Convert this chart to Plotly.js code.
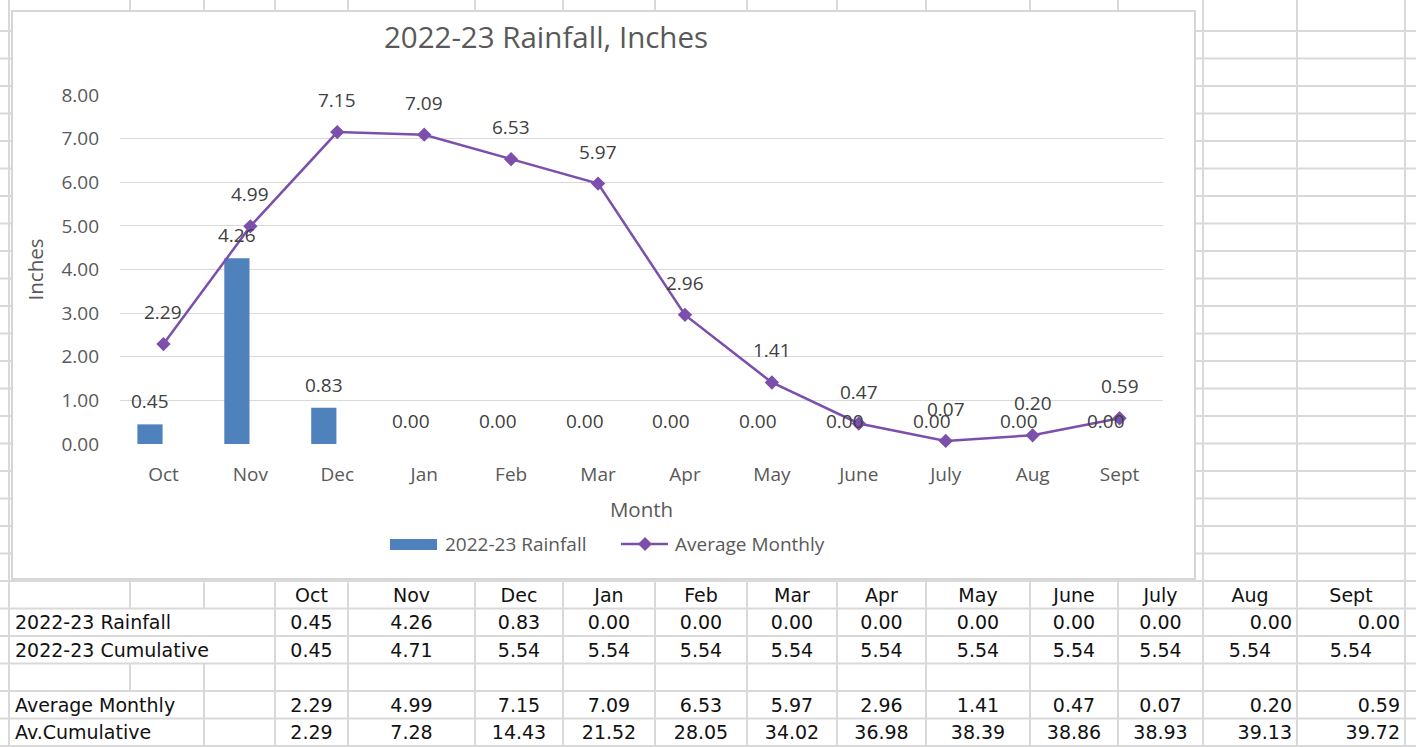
<!DOCTYPE html>
<html>
<head>
<meta charset="utf-8">
<script src="https://cdn.plot.ly/plotly-3.0.1.min.js"></script>
<style>
  html, body { margin:0; padding:0; background:#fff; overflow:hidden; }
  #page { position:relative; width:1416px; height:747px; }
  #grid { position:absolute; left:0; top:0; }
  #chartwrap { position:absolute; left:11px; top:10px; width:1181px; height:566px;
               border:2px solid #d6d6d6; background:#fff; }
  #chart { width:1181px; height:566px; }
  .cell { position:absolute; font-family:"DejaVu Sans", Verdana, sans-serif; font-size:19px;
          color:#111; white-space:nowrap; display:flex; align-items:center; }
</style>
</head>
<body>
<div id="page">
  <svg id="grid" width="1416" height="747"></svg>
  <div id="tablecells"></div>
  <div id="chartwrap"><div id="chart"></div></div>
</div>
<script>
// ---------------- data ----------------
const months = ['Oct','Nov','Dec','Jan','Feb','Mar','Apr','May','June','July','Aug','Sept'];
const rainfall = [0.45, 4.26, 0.83, 0.00, 0.00, 0.00, 0.00, 0.00, 0.00, 0.00, 0.00, 0.00];
const cumulative = [0.45, 4.71, 5.54, 5.54, 5.54, 5.54, 5.54, 5.54, 5.54, 5.54, 5.54, 5.54];
const avgMonthly = [2.29, 4.99, 7.15, 7.09, 6.53, 5.97, 2.96, 1.41, 0.47, 0.07, 0.20, 0.59];
const avCumulative = [2.29, 7.28, 14.43, 21.52, 28.05, 34.02, 36.98, 38.39, 38.86, 38.93, 39.13, 39.72];
const yTicks = [0, 1, 2, 3, 4, 5, 6, 7, 8];
const rowLabels = ['2022-23 Rainfall', '2022-23 Cumulative', '', 'Average Monthly', 'Av.Cumulative'];
const seriesNames = ['2022-23 Rainfall', 'Average Monthly'];
const titleText = '2022-23 Rainfall, Inches';

// ---------------- spreadsheet grid ----------------
const colX = [9,130,204,275,348,475,563,655,747,837,926,1030,1118,1203,1297,1405];
const rowY = [];
for (let k = 0; k <= 26; k++) rowY.push(31 + 27.5 * k);
const tableTop = 20; // index into rowY where table header starts (y=581)
const gridColor = '#d9d9d9';
const svg = document.getElementById('grid');
let s = '';
rowY.forEach(y => { s += `<line x1="0" x2="1416" y1="${y}" y2="${y}" stroke="${gridColor}" stroke-width="2"/>`; });
// hidden vertical segments in table rows where labels overflow
const hidden = { 1:[1,2], 2:[1,2], 4:[1], 5:[1] }; // table row index -> column line indices hidden
colX.forEach((x, ci) => {
  s += `<line x1="${x}" x2="${x}" y1="0" y2="${rowY[tableTop]}" stroke="${gridColor}" stroke-width="2"/>`;
  for (let r = 0; r < 6; r++) {
    if (hidden[r] && hidden[r].includes(ci)) continue;
    s += `<line x1="${x}" x2="${x}" y1="${rowY[tableTop + r]}" y2="${rowY[tableTop + r + 1]}" stroke="${gridColor}" stroke-width="2"/>`;
  }
});
svg.innerHTML = s;

// ---------------- table cells ----------------
const cells = document.getElementById('tablecells');
function addCell(text, x0, x1, r, align) {
  const d = document.createElement('div');
  d.className = 'cell';
  d.textContent = text;
  const y0 = rowY[tableTop + r], y1 = rowY[tableTop + r + 1];
  d.style.left = x0 + 'px';
  d.style.width = (x1 - x0) + 'px';
  d.style.top = y0 + 'px';
  d.style.height = (y1 - y0) + 'px';
  d.style.boxSizing = 'border-box';
  d.style.justifyContent = align === 'right' ? 'flex-end' : (align === 'left' ? 'flex-start' : 'center');
  if (align === 'right') d.style.paddingRight = '5px';
  if (align === 'left') d.style.paddingLeft = '6px';
  cells.appendChild(d);
}
months.forEach((m, i) => addCell(m, colX[3 + i], colX[4 + i], 0, 'center'));
const tableRows = [rainfall, cumulative, null, avgMonthly, avCumulative];
const rightAlignLast = [true, false, false, true, true];
tableRows.forEach((arr, ri) => {
  const r = ri + 1;
  if (rowLabels[ri]) addCell(rowLabels[ri], colX[0], colX[3] + 60, r, 'left');
  if (!arr) return;
  arr.forEach((v, i) => {
    const align = (i >= 10 && rightAlignLast[ri]) ? 'right' : 'center';
    addCell(v.toFixed(2), colX[3 + i], colX[4 + i], r, align);
  });
});

// ---------------- chart ----------------
const W = 1181, H = 566;
const M = { l:107, r:31, t:83, b:134 };
const plotW = W - M.l - M.r, plotH = H - M.t - M.b;
const pageOX = 13, pageOY = 12;
const xp = px => (px - pageOX - M.l) / plotW;
const yp = py => 1 - (py - pageOY - M.t) / plotH;

const purple = '#7b4fab';
const blue = '#4f81bd';
const barOffset = -0.30, barWidth = 0.29;
const catPx = plotW / months.length;
const barShift = (barOffset + barWidth / 2) * catPx;

const traces = [
  { type:'bar', name:seriesNames[0], x:months, y:rainfall, offset:barOffset, width:barWidth,
    marker:{ color:blue }, hoverinfo:'x+y' },
  { type:'scatter', mode:'lines+markers', name:seriesNames[1], x:months, y:avgMonthly,
    line:{ color:purple, width:2.5 }, marker:{ symbol:'diamond', size:11, color:purple }, cliponaxis:false }
];

const annotations = [];
rainfall.forEach((v, i) => annotations.push({
  x:months[i], y:v, xref:'x', yref:'y', text:v.toFixed(2), showarrow:false,
  xshift:barShift, yshift:23, yanchor:'middle', font:{ size:19, color:'#404040', family:'Open Sans' }
}));
avgMonthly.forEach((v, i) => annotations.push({
  x:months[i], y:v, xref:'x', yref:'y', text:v.toFixed(2), showarrow:false,
  yshift:32, yanchor:'middle', font:{ size:19, color:'#404040', family:'Open Sans' }
}));
// custom legend texts
annotations.push({ x:xp(443), y:yp(544), xref:'paper', yref:'paper', xanchor:'left', yanchor:'middle',
  text:seriesNames[0], showarrow:false, font:{ size:19, color:'#595959', family:'Open Sans' } });
annotations.push({ x:xp(673), y:yp(544), xref:'paper', yref:'paper', xanchor:'left', yanchor:'middle',
  text:seriesNames[1], showarrow:false, font:{ size:19, color:'#595959', family:'Open Sans' } });

const shapes = [
  { type:'rect', xref:'paper', yref:'paper', x0:xp(390), x1:xp(437), y0:yp(550), y1:yp(539),
    fillcolor:blue, line:{ width:0 } },
  { type:'line', xref:'paper', yref:'paper', x0:xp(621), x1:xp(668), y0:yp(544), y1:yp(544),
    line:{ color:purple, width:2.5 } },
  { type:'path', xref:'paper', yref:'paper', xsizemode:'pixel', ysizemode:'pixel',
    xanchor:xp(645), yanchor:yp(544), path:'M -7 0 L 0 7 L 7 0 L 0 -7 Z',
    fillcolor:purple, line:{ width:0 } }
];

const layout = {
  width:W, height:H, margin:M,
  paper_bgcolor:'#fff', plot_bgcolor:'#fff',
  font:{ family:'Open Sans', color:'#595959', size:19 },
  title:{ text:titleText, font:{ size:29.5, color:'#595959', family:'Open Sans' },
          xref:'container', yref:'container', x:533 / W, y:1 - 26 / H, xanchor:'center', yanchor:'middle' },
  xaxis:{ type:'category', range:[-0.5, months.length - 0.5], showgrid:false, zeroline:false, showline:false,
          ticks:'', ticklabelstandoff:17, tickfont:{ size:19, color:'#595959' },
          title:{ text:'Month', font:{ size:20.5, color:'#595959' }, standoff:16 } },
  yaxis:{ range:[0, 8], tickvals:yTicks, ticktext:yTicks.map(v => v.toFixed(2)),
          gridcolor:'#d9d9d9', gridwidth:1, zeroline:false, showline:false, ticks:'',
          ticklabelstandoff:20, tickfont:{ size:19, color:'#595959' },
          title:{ text:'Inches', font:{ size:20.5, color:'#595959' }, standoff:12 } },
  showlegend:false,
  annotations, shapes
};
Plotly.newPlot('chart', traces, layout, { displayModeBar:false, staticPlot:true });
</script>
</body>
</html>
